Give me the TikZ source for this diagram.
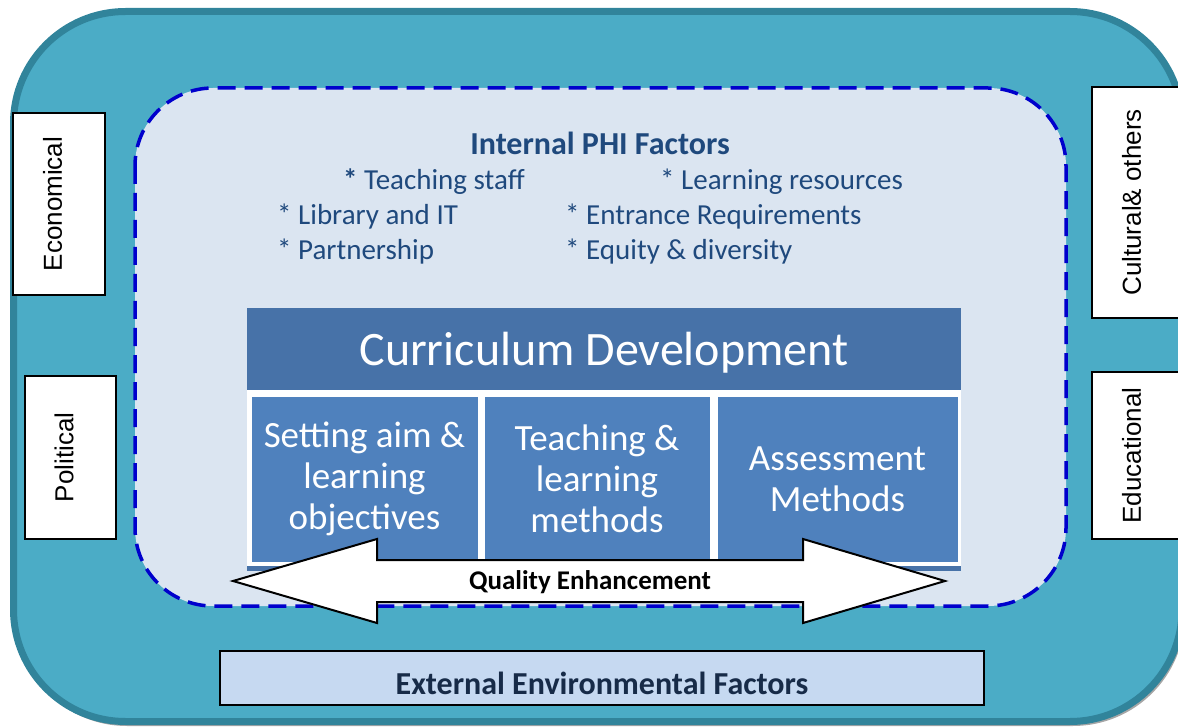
\documentclass[tikz,border=0pt]{standalone}
\usepackage{fontspec}
\setmainfont{Carlito}
\newfontfamily\arialfont{Liberation Sans}
\usetikzlibrary{positioning}

\definecolor{outerfill}{RGB}{75,172,198}
\definecolor{outerline}{RGB}{49,132,155}
\definecolor{innerfill}{RGB}{219,229,241}
\definecolor{dashblue}{RGB}{0,0,204}
\definecolor{headblue}{RGB}{71,114,168}
\definecolor{cellblue}{RGB}{79,129,189}
\definecolor{itemblue}{RGB}{31,73,125}
\definecolor{extfill}{RGB}{198,217,241}
\definecolor{extnavy}{RGB}{23,43,72}

\begin{document}
\begin{tikzpicture}[x=1pt,y=-1pt,
  sidebox/.style={draw=black,line width=2pt,fill=white,rotate=90,inner sep=0pt,
    text depth=13pt,font=\arialfont\fontsize{26pt}{30pt}\selectfont},
  cell/.style={draw=white,line width=3pt,fill=cellblue,text=white,align=center,
    minimum height=168pt,inner sep=0pt,font=\fontsize{37pt}{41pt}\selectfont},
  item/.style={anchor=west,inner sep=0pt,text=itemblue,font=\fontsize{29pt}{33pt}\selectfont}]
  \useasboundingbox (0,0) rectangle (1178,727);

  % outer frame with its shadow
  \fill[black!35,rounded corners=112pt] (15,13) rectangle (1185,726);
  \draw[outerline,fill=outerfill,line width=7pt,rounded corners=112pt]
    (13.5,11.5) rectangle (1182,721.5);
  % inner dashed area
  \draw[dashblue,fill=innerfill,line width=3.5pt,dash pattern=on 18pt off 9pt,
    rounded corners=78pt] (135,88) rectangle (1066,606);

  % side factors
  \node[sidebox,minimum width=182pt,minimum height=92pt] (econ) at (59,204) {Economical};
  \node[sidebox,minimum width=163pt,minimum height=91pt] (pol) at (70.5,457.5) {Political};
  \node[sidebox,minimum width=231pt,minimum height=92pt] (cult) at (1138,202.5) {Cultural\& others};
  \node[sidebox,minimum width=167pt,minimum height=92pt] (edu) at (1138,455.5) {Educational};

  % internal factors
  \node[text=itemblue,font=\bfseries\fontsize{32pt}{36pt}\selectfont] (phi) at (600,143) {Internal PHI Factors};
  \node[item] (staff) at (343,182) {\textbf{*} Teaching staff};
  \node[item] (res) at (660,182) {* Learning resources};
  \node[item] (lib) at (277,217) {* Library and IT};
  \node[item] (entr) at (565,217) {* Entrance Requirements};
  \node[item] (part) at (277,252) {* Partnership};
  \node[item] (equ) at (565,252) {* Equity \& diversity};

  % curriculum block
  \fill[headblue] (247,562) rectangle (961,571);
  \fill[white] (247,390) rectangle (961,566);
  \node[fill=headblue,minimum width=714pt,minimum height=82pt,inner sep=0pt,text=white,
    text height=40pt,font=\fontsize{48pt}{52pt}\selectfont] (cd) at (604,349) {Curriculum Development};
  \node[cell,minimum width=229pt] (aims) at (364.5,479) {Setting aim \&\\learning\\objectives};
  \node[cell,minimum width=228pt] (teach) at (597,479) {Teaching \&\\learning\\methods};
  \node[cell,minimum width=243pt] (assess) at (837.5,479) {Assessment\\Methods};

  % two-way arrow
  \draw[line width=2pt,fill=white] (233,581) -- (377,539) -- (377,560) -- (803,560)
    -- (803,539) -- (945,581) -- (803,623) -- (803,602) -- (377,602) -- (377,623) -- cycle;
  \node[font=\bfseries\fontsize{27pt}{30pt}\selectfont] (qe) at (590,582) {Quality Enhancement};

  % external factors
  \node[draw=black,line width=2pt,fill=extfill,minimum width=764pt,minimum height=54pt,
    inner sep=0pt,text height=33pt,text=extnavy,font=\bfseries\fontsize{32pt}{34pt}\selectfont]
    (ext) at (602,678) {External Environmental Factors};
\end{tikzpicture}
\end{document}
